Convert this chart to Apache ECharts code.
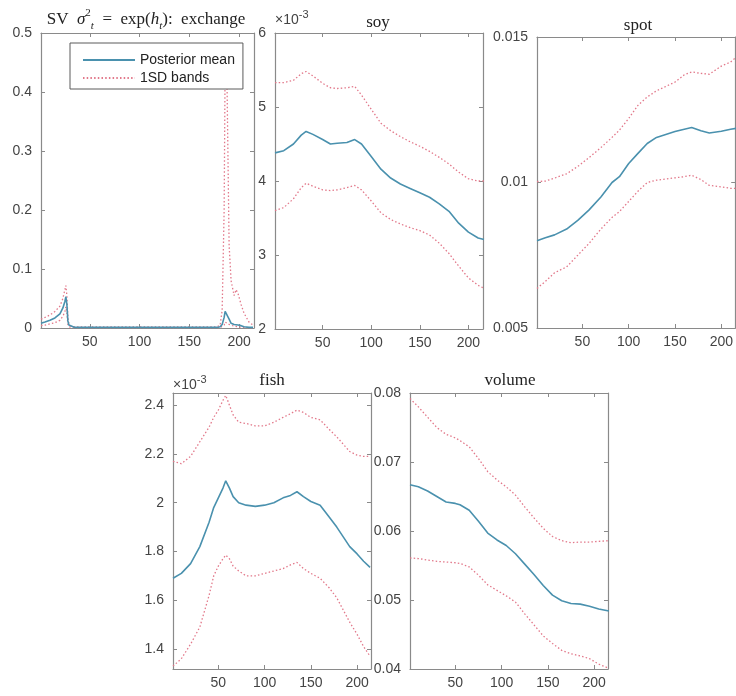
<!DOCTYPE html>
<html><head><meta charset="utf-8">
<script src="https://cdn.jsdelivr.net/npm/echarts@6/dist/echarts.min.js"></script>
<style>html,body{margin:0;padding:0;background:#fff}#c{width:736px;height:696px}</style>
</head><body><div id="c"></div>
<script>
// ---------- data ----------
const xTickValues = [50, 100, 150, 200];
const xTickLabels = ['50', '100', '150', '200'];

const exchangeX     = [1,5,10,15,20,23,25,26,27,28,29,31,35,50,100,150,178,181,183,185,186,187,188,190,192,195,197,199,202,205,210,214];
const exchangeMean  = [0.008,0.010,0.013,0.017,0.024,0.034,0.045,0.053,0.040,0.012,0.005,0.002,0.001,0.001,0.001,0.001,0.001,0.002,0.006,0.018,0.028,0.030,0.025,0.015,0.008,0.006,0.005,0.005,0.004,0.002,0.001,0.001];
const exchangeUpper = [0.015,0.018,0.022,0.028,0.037,0.050,0.065,0.072,0.055,0.018,0.008,0.003,0.002,0.002,0.002,0.002,0.002,0.005,0.030,0.200,0.450,0.460,0.400,0.140,0.080,0.055,0.065,0.058,0.040,0.025,0.010,0.005];
const exchangeLower = [0.004,0.005,0.007,0.009,0.013,0.020,0.028,0.036,0.026,0.006,0.002,0.001,0.0005,0.0005,0.0005,0.0005,0.0005,0.001,0.002,0.005,0.010,0.012,0.010,0.006,0.004,0.003,0.002,0.002,0.0015,0.001,0.0005,0.0005];
const exchangeYTicks  = [0, 0.1, 0.2, 0.3, 0.4, 0.5];
const exchangeYLabels = ['0', '0.1', '0.2', '0.3', '0.4', '0.5'];

// soy values in units of 10^-3
const soyX     = [1,10,20,28,33,40,50,58,65,75,83,90,100,110,120,130,140,150,160,170,180,190,200,210,216];
const soyMean  = [4.38,4.41,4.50,4.62,4.67,4.63,4.56,4.50,4.51,4.52,4.56,4.50,4.33,4.16,4.04,3.96,3.90,3.84,3.78,3.69,3.59,3.43,3.31,3.23,3.21];
const soyUpper = [5.33,5.33,5.36,5.45,5.48,5.42,5.32,5.26,5.25,5.26,5.28,5.16,4.97,4.78,4.68,4.60,4.53,4.47,4.40,4.32,4.23,4.12,4.03,4.00,4.00];
const soyLower = [3.60,3.64,3.76,3.91,3.97,3.93,3.88,3.87,3.88,3.91,3.94,3.88,3.73,3.57,3.48,3.42,3.37,3.33,3.27,3.16,3.02,2.85,2.69,2.59,2.55];
const soyYTicks  = [2, 3, 4, 5, 6];
const soyYLabels = ['2', '3', '4', '5', '6'];

const spotX     = [1,10,20,33,45,57,70,82,90,100,110,120,130,140,150,160,168,178,187,200,210,216];
const spotMean  = [0.0080,0.0081,0.0082,0.0084,0.0087,0.00905,0.0095,0.0100,0.0102,0.01065,0.0110,0.01134,0.01155,0.01165,0.01175,0.01183,0.01189,0.01178,0.01170,0.01176,0.01183,0.01186];
const spotUpper = [0.01003,0.01005,0.01015,0.0103,0.01055,0.01085,0.0112,0.01155,0.0118,0.0122,0.01265,0.01294,0.01315,0.0133,0.01345,0.0137,0.0138,0.01375,0.01372,0.0140,0.01414,0.0143];
const spotLower = [0.00636,0.0066,0.0069,0.0071,0.0075,0.0079,0.0084,0.0088,0.0090,0.00935,0.0097,0.0100,0.01008,0.01012,0.01016,0.0102,0.01025,0.0101,0.0099,0.00985,0.0098,0.0098];
const spotYTicks  = [0.005, 0.01, 0.015];
const spotYLabels = ['0.005', '0.01', '0.015'];

// fish values in units of 10^-3
const fishX     = [1,10,20,30,40,45,50,55,58,62,66,72,80,90,100,110,120,128,135,142,150,160,170,178,185,192,200,207,214];
const fishMean  = [1.69,1.71,1.75,1.82,1.92,1.98,2.02,2.06,2.09,2.06,2.025,2.00,1.99,1.985,1.99,2.00,2.02,2.03,2.045,2.025,2.005,1.99,1.94,1.90,1.86,1.82,1.79,1.76,1.735];
const fishUpper = [2.17,2.16,2.19,2.25,2.31,2.35,2.38,2.42,2.44,2.40,2.36,2.33,2.325,2.315,2.315,2.33,2.35,2.365,2.38,2.37,2.35,2.34,2.30,2.27,2.24,2.21,2.195,2.19,2.19];
const fishLower = [1.33,1.36,1.42,1.49,1.62,1.70,1.74,1.77,1.785,1.77,1.74,1.72,1.70,1.70,1.71,1.72,1.73,1.745,1.755,1.73,1.71,1.69,1.65,1.61,1.56,1.51,1.46,1.41,1.37];
const fishYTicks  = [1.4, 1.6, 1.8, 2.0, 2.2, 2.4];
const fishYLabels = ['1.4', '1.6', '1.8', '2', '2.2', '2.4'];

const volumeX     = [1,10,20,30,40,50,55,65,75,85,95,105,115,125,135,145,155,165,175,185,195,205,216];
const volumeMean  = [0.0667,0.0664,0.0658,0.0650,0.0642,0.0640,0.0638,0.0630,0.0614,0.0597,0.0587,0.0579,0.0567,0.0552,0.0537,0.0521,0.0507,0.0499,0.0495,0.0494,0.0491,0.0487,0.0484];
const volumeUpper = [0.0792,0.0780,0.0765,0.0750,0.0740,0.0735,0.0731,0.0722,0.0705,0.0686,0.0674,0.0664,0.0652,0.0635,0.0619,0.0604,0.0592,0.0586,0.0583,0.0584,0.0584,0.0585,0.0586];
const volumeLower = [0.0561,0.0560,0.0558,0.0556,0.0555,0.0554,0.0553,0.0548,0.0536,0.0522,0.0514,0.0506,0.0497,0.0480,0.0464,0.0448,0.0437,0.0427,0.0422,0.0419,0.0415,0.0407,0.0401];
const volumeYTicks  = [0.04, 0.05, 0.06, 0.07, 0.08];
const volumeYLabels = ['0.04', '0.05', '0.06', '0.07', '0.08'];

const meanName = 'Posterior mean';
const bandName = '1SD bands';

// ---------- layout / styles ----------
const panels = [
  {x: exchangeX, mean: exchangeMean, upper: exchangeUpper, lower: exchangeLower, yMin: 0, yMax: 0.5, yTicks: exchangeYTicks, yLabels: exchangeYLabels,
   grid: {left: 41, top: 33, width: 213, height: 295}},
  {x: soyX, mean: soyMean, upper: soyUpper, lower: soyLower, yMin: 2, yMax: 6, yTicks: soyYTicks, yLabels: soyYLabels,
   grid: {left: 275, top: 33, width: 208, height: 296}},
  {x: spotX, mean: spotMean, upper: spotUpper, lower: spotLower, yMin: 0.005, yMax: 0.015, yTicks: spotYTicks, yLabels: spotYLabels,
   grid: {left: 537, top: 37, width: 204, height: 291}},
  {x: fishX, mean: fishMean, upper: fishUpper, lower: fishLower, yMin: 1.318, yMax: 2.45, yTicks: fishYTicks, yLabels: fishYLabels,
   grid: {left: 173, top: 393, width: 198, height: 276}},
  {x: volumeX, mean: volumeMean, upper: volumeUpper, lower: volumeLower, yMin: 0.04, yMax: 0.08, yTicks: volumeYTicks, yLabels: volumeYLabels,
   grid: {left: 410, top: 393, width: 198, height: 276}}
];

const X_MIN = 1, X_MAX = 215;
const axisColor = '#8a8a8a';
const labelColor = '#444';
const labelFont = 'Liberation Sans, Arial, sans-serif';
const serif = 'Liberation Serif, Times New Roman, serif';
const meanColor = '#4a91ae';
const bandColor = '#e2788a';

function fmt(ticks, labels) {
  return v => {
    const i = ticks.findIndex(t => Math.abs(t - v) < 1e-9);
    return i >= 0 ? labels[i] : '';
  };
}

const grids = [], xAxes = [], yAxes = [], series = [];
panels.forEach((p, i) => {
  grids.push(Object.assign({containLabel: false}, p.grid));
  const tickStyle = {show: true, inside: true, length: 4, lineStyle: {color: axisColor, width: 1}};
  const lineStyle = {show: true, onZero: false, lineStyle: {color: axisColor, width: 1.2}};
  xAxes.push({type: 'value', gridIndex: i, position: 'bottom', min: X_MIN, max: X_MAX,
    axisLine: lineStyle, axisTick: Object.assign({customValues: xTickValues}, tickStyle),
    axisLabel: {customValues: xTickValues, formatter: fmt(xTickValues, xTickLabels), color: labelColor, fontSize: 14, fontFamily: labelFont, margin: 7},
    splitLine: {show: false}});
  xAxes.push({type: 'value', gridIndex: i, position: 'top', min: X_MIN, max: X_MAX,
    axisLine: lineStyle, axisTick: Object.assign({customValues: xTickValues}, tickStyle),
    axisLabel: {show: false}, splitLine: {show: false}});
  yAxes.push({type: 'value', gridIndex: i, position: 'left', min: p.yMin, max: p.yMax,
    axisLine: lineStyle, axisTick: Object.assign({customValues: p.yTicks}, tickStyle),
    axisLabel: {customValues: p.yTicks, formatter: fmt(p.yTicks, p.yLabels), color: labelColor, fontSize: 14, fontFamily: labelFont, margin: 9},
    splitLine: {show: false}});
  yAxes.push({type: 'value', gridIndex: i, position: 'right', min: p.yMin, max: p.yMax,
    axisLine: lineStyle, axisTick: Object.assign({customValues: p.yTicks}, tickStyle),
    axisLabel: {show: false}, splitLine: {show: false}});
  const zip = arr => p.x.map((xv, k) => [xv, arr[k]]);
  const bandStyle = {color: bandColor, width: 1.3, type: [1.5, 2.2]};
  series.push({name: bandName, type: 'line', xAxisIndex: 2 * i, yAxisIndex: 2 * i, data: zip(p.upper),
    symbol: 'none', lineStyle: bandStyle, itemStyle: {color: bandColor}, silent: true, z: 2});
  series.push({name: bandName, type: 'line', xAxisIndex: 2 * i, yAxisIndex: 2 * i, data: zip(p.lower),
    symbol: 'none', lineStyle: bandStyle, itemStyle: {color: bandColor}, silent: true, z: 2});
  series.push({name: meanName, type: 'line', xAxisIndex: 2 * i, yAxisIndex: 2 * i, data: zip(p.mean),
    symbol: 'none', lineStyle: {color: meanColor, width: 1.6}, itemStyle: {color: meanColor}, silent: true, z: 3});
});

const titleBase = {padding: 0, textAlign: 'center', textStyle: {fontFamily: serif, fontSize: 17, fontWeight: 'normal', color: '#222'}};
const sciRich = {
  a: {fontFamily: labelFont, fontSize: 14, fontWeight: 'normal', color: labelColor, lineHeight: 18, verticalAlign: 'bottom'},
  b: {fontFamily: labelFont, fontSize: 11, fontWeight: 'normal', color: labelColor, lineHeight: 18, verticalAlign: 'top'}
};
const titles = [
  {text: '{r|SV  }{i|σ}{sup|2}{sub|t}{r|  =  exp(}{i|h}{sub|t}{r|):  exchange}', left: 146, top: 8,
   padding: 0, textAlign: 'center',
   textStyle: {fontFamily: serif, fontSize: 17, fontWeight: 'normal', color: '#222',
     rich: {
       r: {fontFamily: serif, fontSize: 17, fontWeight: 'normal', color: '#222', lineHeight: 22},
       i: {fontFamily: serif, fontSize: 17, fontWeight: 'normal', fontStyle: 'italic', color: '#222', lineHeight: 22},
       sup: {fontFamily: serif, fontSize: 11, fontWeight: 'normal', color: '#222', lineHeight: 20, verticalAlign: 'top'},
       sub: {fontFamily: serif, fontSize: 11, fontWeight: 'normal', fontStyle: 'italic', color: '#222', lineHeight: 24, verticalAlign: 'bottom'}
     }}},
  Object.assign({}, titleBase, {text: 'soy', left: 378, top: 14}),
  Object.assign({}, titleBase, {text: 'spot', left: 638, top: 17}),
  Object.assign({}, titleBase, {text: 'fish', left: 272, top: 372}),
  Object.assign({}, titleBase, {text: 'volume', left: 510, top: 372}),
  {text: '{a|×10}{b|-3}', left: 275, top: 9, padding: 0, textStyle: {fontWeight: 'normal', rich: sciRich}},
  {text: '{a|×10}{b|-3}', left: 173, top: 374, padding: 0, textStyle: {fontWeight: 'normal', rich: sciRich}}
];

const chart = echarts.init(document.getElementById('c'), null, {renderer: 'canvas'});
chart.setOption({
  backgroundColor: '#ffffff',
  animation: false,
  title: titles,
  legend: {
    data: [meanName, bandName], orient: 'vertical', left: 70, top: 43,
    backgroundColor: '#ffffff', borderColor: '#5a5a5a', borderWidth: 1,
    padding: [10, 8, 4, 12], itemGap: 4, itemWidth: 52, itemHeight: 14,
    itemStyle: {opacity: 0, borderWidth: 0},
    textStyle: {fontFamily: labelFont, fontSize: 14, color: '#222'},
    selectedMode: false, z: 10
  },
  grid: grids,
  xAxis: xAxes,
  yAxis: yAxes,
  series: series
});
</script></body></html>
